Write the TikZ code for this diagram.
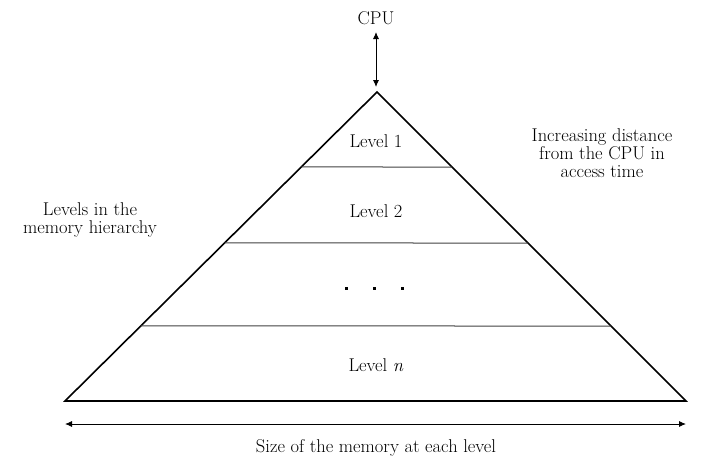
\documentclass[tikz,border=0pt]{standalone}
\usetikzlibrary{arrows.meta,calc}
\begin{document}
\begin{tikzpicture}[x=1pt,y=-1pt,
  side/.style={line width=1.6pt,line join=miter},
  divider/.style={line width=1pt,draw=black!75},
  dblarrow/.style={line width=0.9pt,{Latex[length=7pt,width=6pt]}-{Latex[length=7pt,width=6pt]}},
  label/.style={font=\fontsize{18.5}{18}\selectfont,align=center,inner sep=0pt}]
\useasboundingbox (0,0) rectangle (702,461);
% pyramid corners
\coordinate (apex) at (377,92);
\coordinate (bl) at (65,401);
\coordinate (br) at (686,401);
\draw[side] (bl) -- (apex) -- (br) -- cycle;
% level dividers, cut against the two sides
\foreach \y/\n in {167/d1,243/d2,326/d3}{
  \path (intersection of apex--bl and 0,\y--702,\y) coordinate (\n l);
  \path (intersection of apex--br and 0,\y--702,\y) coordinate (\n r);
  \draw[divider] (\n l) -- (\n r);
}
% level labels
\node[label] (l1) at (376,141) {Level 1};
\node[label] (l2) at (376,211) {Level 2};
\node[label] (ln) at (376,365) {Level \textit{n}};
% ellipsis between level 2 and level n
\foreach \x/\n in {346/e1,374/e2,402/e3}
  \fill (\x-1.5,286.5) rectangle (\x+1.5,289.5) coordinate (\n);
% CPU link
\node[label] (cpu) at (376,18) {CPU};
\coordinate (cputop) at (376,32);
\coordinate (cpubot) at (376,87);
\draw[dblarrow] (cputop) -- (cpubot);
% side notes
\node[label] (lvl) at (90,220) {Levels in the\\memory hierarchy};
\node[label] (dist) at (602,153) {Increasing distance\\from the CPU in\\access time};
% size arrow
\coordinate (sl) at (65,424);
\coordinate (sr) at (686,424);
\draw[dblarrow] (sl) -- (sr);
\node[label] (size) at (376,448) {Size of the memory at each level};
\end{tikzpicture}
\end{document}
